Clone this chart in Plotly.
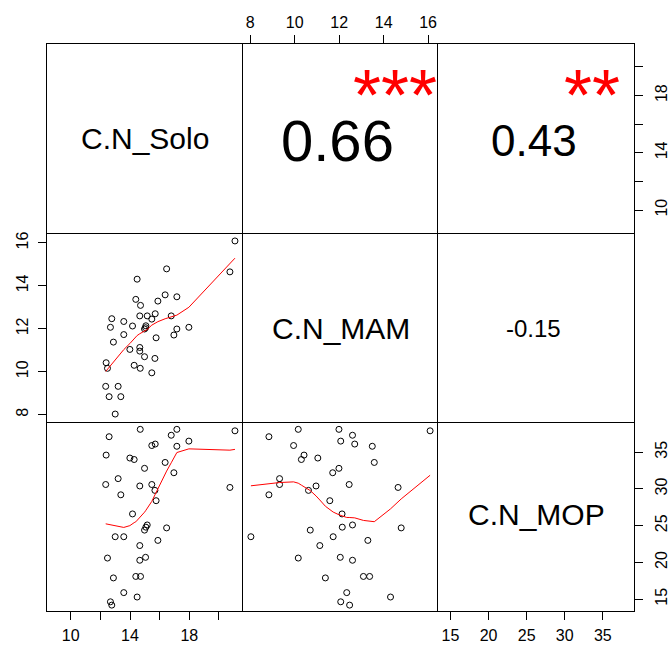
import numpy as np
import plotly.graph_objects as go
from plotly.subplots import make_subplots

# ---- data ----
var_names = ["C.N_Solo", "C.N_MAM", "C.N_MOP"]

solo = [21.08, 17.16, 14.69, 12.59, 16.78, 17.97, 17.16, 15.47, 15.70, 12.39,
        13.99, 14.28, 16.37, 14.98, 16.96, 13.20, 20.74, 12.36, 14.66, 15.47,
        15.68, 13.38, 15.76, 14.17, 16.47, 15.16, 15.07, 14.98, 13.00, 13.58,
        15.88, 14.66, 12.48, 14.66, 15.05, 12.88, 14.39, 14.71, 13.58, 14.48,
        12.68, 12.77]
mam = [16.09, 11.99, 10.16, 8.84, 12.60, 12.07, 13.49, 9.95, 12.70, 10.42,
       11.04, 10.30, 13.58, 11.99, 11.71, 9.32, 14.65, 9.32, 10.96, 12.45,
       10.62, 8.84, 11.58, 12.13, 14.79, 12.60, 12.14, 10.70, 8.03, 11.73,
       13.29, 11.13, 10.16, 12.60, 12.05, 11.38, 13.37, 13.09, 12.34, 14.31,
       12.07, 12.47]
mop = [37.9, 38.1, 38.1, 37.1, 37.3, 36.5, 35.8, 35.9, 36.1, 34.6,
       34.2, 34.0, 33.6, 32.8, 32.2, 31.4, 30.2, 30.6, 30.4, 30.6,
       29.8, 29.2, 28.4, 26.6, 24.7, 25.1, 24.8, 24.4, 23.5, 23.5,
       23.0, 22.3, 20.6, 20.3, 20.7, 17.9, 18.1, 18.1, 15.9, 15.3,
       14.65, 14.2]

cor_text = {(1, 2): "0.66", (1, 3): "0.43", (2, 3): "-0.15"}
stars_text = {(1, 2): "***", (1, 3): "**"}

solo_ticks = [10, 12, 14, 16, 18, 20]
solo_ticklabels = ["10", "", "14", "", "18", ""]
mam_ticks = [8, 10, 12, 14, 16]
mop_ticks = [15, 20, 25, 30, 35]

# ---- styling / layout ----
FONT = "Liberation Sans, Arial, sans-serif"
W, H = 669, 647
ML, MR, MT, MB = 47, 35, 44, 36
PH = H - MT - MB
ranges = {1: [8.4, 21.6], 2: [7.66, 16.46], 3: [13.4, 39.1]}
cor_sizes = {(1, 2): 58, (1, 3): 44, (2, 3): 24}


def lowess(x, y, f=2 / 3, it=3):
    x = np.asarray(x, float)
    y = np.asarray(y, float)
    o = np.argsort(x, kind="stable")
    x, y = x[o], y[o]
    n = len(x)
    ns = max(min(int(round(f * n)), n), 2)
    rw = np.ones(n)
    ys = np.zeros(n)
    for k in range(it + 1):
        for i in range(n):
            d = np.abs(x - x[i])
            h = max(np.sort(d)[ns - 1], 1e-12)
            w = np.zeros(n)
            m = d <= 0.999 * h
            w[m] = np.where(d[m] <= 0.001 * h, 1.0, (1 - (d[m] / h) ** 3) ** 3)
            w *= rw
            sw = w.sum()
            if sw <= 0:
                ys[i] = y[i]
                continue
            w = w / sw
            xm = (w * x).sum()
            c = (w * (x - xm) ** 2).sum()
            if np.sqrt(c) > 0.001 * (x[-1] - x[0]):
                b = w * (1 + (x[i] - xm) * (x - xm) / c)
            else:
                b = w
            ys[i] = (b * y).sum()
        if k == it:
            break
        res = y - ys
        cmad = 6 * np.median(np.abs(res))
        if cmad < 1e-7 * np.mean(np.abs(y)):
            break
        r = np.abs(res) / cmad
        rw = np.where(r <= 0.001, 1.0, np.where(r < 0.999, (1 - r ** 2) ** 2, 0.0))
    return x, ys


data = {1: solo, 2: mam, 3: mop}

fig = make_subplots(rows=3, cols=3, horizontal_spacing=0, vertical_spacing=0)

for r in range(1, 4):
    for c in range(1, 4):
        if r > c:
            xv, yv = data[c], data[r]
            fig.add_trace(go.Scatter(x=xv, y=yv, mode="markers",
                                     marker=dict(symbol="circle-open", size=6, color="black",
                                                 line=dict(width=1, color="black")),
                                     showlegend=False, hoverinfo="skip"), row=r, col=c)
            lx, ly = lowess(xv, yv)
            fig.add_trace(go.Scatter(x=lx, y=ly, mode="lines",
                                     line=dict(color="red", width=1),
                                     showlegend=False, hoverinfo="skip"), row=r, col=c)
        else:
            # empty placeholder so the panel frame / axes are drawn
            fig.add_trace(go.Scatter(x=[None], y=[None], mode="markers",
                                     showlegend=False, hoverinfo="skip"), row=r, col=c)

base_axis = dict(showgrid=False, zeroline=False, showline=True,
                 linecolor="black", linewidth=1, ticks="", showticklabels=False,
                 tickfont=dict(family=FONT, size=16, color="black"),
                 ticklen=8, tickcolor="black", tickwidth=1, automargin=False)

# each frame edge is drawn exactly once, so all borders stay 1px
for r in range(1, 4):
    for c in range(1, 4):
        fig.update_xaxes(base_axis, range=ranges[c], mirror=(r == 1), row=r, col=c)
        fig.update_yaxes(base_axis, range=ranges[r], mirror=(c == 3), row=r, col=c)

tick_on = dict(ticks="outside", showticklabels=True)
# Solo on bottom of column 1
fig.update_xaxes(tick_on, tickvals=solo_ticks, ticktext=solo_ticklabels,
                 ticklabelstandoff=2, row=3, col=1)
# MAM on top of column 2
fig.update_xaxes(tick_on, side="top", tickvals=mam_ticks,
                 ticktext=[str(v) for v in mam_ticks], ticklabelstandoff=1, row=1, col=2)
# MOP on bottom of column 3
fig.update_xaxes(tick_on, tickvals=mop_ticks, ticktext=[str(v) for v in mop_ticks],
                 ticklabelstandoff=2, row=3, col=3)
# Solo on right of row 1
fig.update_yaxes(tick_on, side="right", tickvals=solo_ticks, ticktext=solo_ticklabels,
                 tickangle=-90, ticklabelstandoff=5, row=1, col=3)
# MAM on left of row 2
fig.update_yaxes(tick_on, tickvals=mam_ticks, ticktext=[str(v) for v in mam_ticks],
                 tickangle=-90, ticklabelstandoff=4, row=2, col=1)
# MOP on right of row 3
fig.update_yaxes(tick_on, side="right", tickvals=mop_ticks,
                 ticktext=[str(v) for v in mop_ticks],
                 tickangle=-90, ticklabelstandoff=5, row=3, col=3)


def px_x(p):
    return (p - ML) / (W - ML - MR)


def px_y(p):
    return 1 - (p - MT) / PH


annotations = []
diag_y = [138, 328, 514]
col_cx = [144.8, 340.8, 536.5]
for i, name in enumerate(var_names):
    annotations.append(dict(x=px_x(col_cx[i]), y=px_y(diag_y[i]), xref="paper", yref="paper",
                            text=name, showarrow=False,
                            font=dict(family=FONT, size=30, color="black"),
                            xanchor="center", yanchor="middle"))
cor_y = {(1, 2): 140, (1, 3): 140.5, (2, 3): 328}
for (r, c), t in cor_text.items():
    annotations.append(dict(x=px_x(col_cx[c - 1] - 3), y=px_y(cor_y[(r, c)]),
                            xref="paper", yref="paper",
                            text=t, showarrow=False,
                            font=dict(family=FONT, size=cor_sizes[(r, c)], color="black"),
                            xanchor="center", yanchor="middle"))
star_x = {(1, 2): 395, (1, 3): 592}
for (r, c), t in stars_text.items():
    annotations.append(dict(x=px_x(star_x[(r, c)]), y=px_y(95),
                            xref="paper", yref="paper",
                            text=t, showarrow=False,
                            font=dict(family=FONT, size=72, color="red"),
                            xanchor="center", yanchor="middle"))

fig.update_layout(width=W, height=H, margin=dict(l=ML, r=MR, t=MT, b=MB),
                  paper_bgcolor="white", plot_bgcolor="white",
                  annotations=annotations, showlegend=False)

fig.write_html("out.html")
